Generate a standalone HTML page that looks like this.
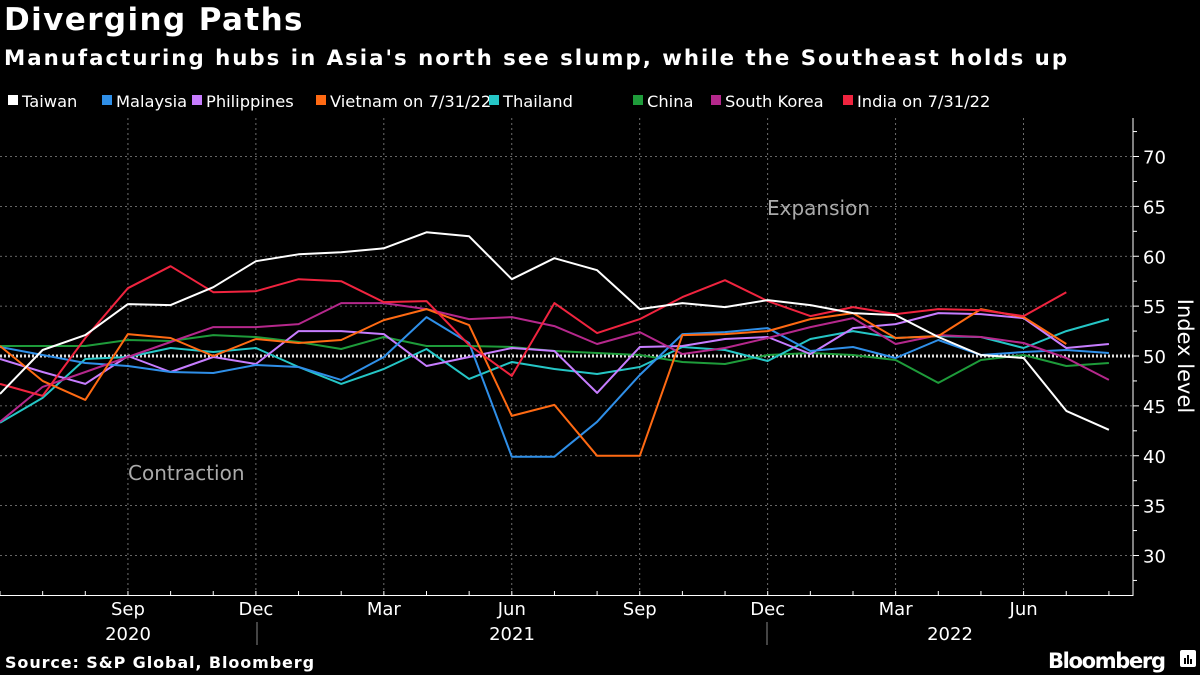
<!DOCTYPE html>
<html><head><meta charset="utf-8"><style>
body{margin:0;background:#000;width:1200px;height:675px;overflow:hidden;font-family:"DejaVu Sans","Liberation Sans",sans-serif;color:#fff}
.t{position:absolute;white-space:nowrap}
</style></head><body>
<div class="t" style="left:4px;top:2px;font-size:31px;font-weight:bold;letter-spacing:1.4px">Diverging Paths</div>
<div class="t" style="left:4px;top:46px;font-size:21.3px;font-weight:bold;letter-spacing:2px">Manufacturing hubs in Asia's north see slump, while the Southeast holds up</div>
<svg width="1200" height="675" style="position:absolute;left:0;top:0;font-family:'DejaVu Sans','Liberation Sans',sans-serif" id="s"></svg>
<script>
const S=document.getElementById('s');let h='';
const X=i=>i*42.65, Y=v=>356-(v-50)*9.975;
const leg=[["Taiwan","#ffffff",8],["Malaysia","#2f8fe8",102],["Philippines","#c77dff",192],["Vietnam on 7/31/22","#ff6a13",316],["Thailand","#25c6c6",489],["China","#1e9b3a",633],["South Korea","#b5288c",711],["India on 7/31/22","#f0243f",843]];
leg.forEach(l=>{h+=`<rect x="${l[2]}" y="95" width="10" height="10" fill="${l[1]}"/><text x="${l[2]+14}" y="107" font-size="16.3" fill="#fff">${l[0]}</text>`});
for(let v=30;v<=70;v+=5){if(v!=50)h+=`<line x1="0" x2="1133" y1="${Y(v)}" y2="${Y(v)}" stroke="#888" stroke-dasharray="2,3" stroke-width="0.8"/>`;
h+=`<line x1="1133" x2="1139" y1="${Y(v)}" y2="${Y(v)}" stroke="#fff"/><text x="1143" y="${Y(v)+7}" font-size="18" fill="#fff">${v}</text>`;}
for(let v=27.5;v<=72.5;v+=5)h+=`<line x1="1133" x2="1137" y1="${Y(v)}" y2="${Y(v)}" stroke="#fff"/>`;
for(let i=3;i<27;i+=3)h+=`<line x1="${X(i)}" x2="${X(i)}" y1="118" y2="595" stroke="#888" stroke-dasharray="2,3" stroke-width="0.8"/>`;
h+=`<line x1="0" x2="1133" y1="356" y2="356" stroke="#ddd" stroke-width="3" stroke-dasharray="2,2"/>`;
h+=`<line x1="0" x2="1133" y1="595.5" y2="595.5" stroke="#fff"/><line x1="1133" x2="1133" y1="118" y2="596" stroke="#fff"/>`;
for(let i=0;i<27;i++)h+=`<line x1="${X(i)}" x2="${X(i)}" y1="591" y2="595" stroke="#fff"/>`;
[["Sep",3],["Dec",6],["Mar",9],["Jun",12],["Sep",15],["Dec",18],["Mar",21],["Jun",24]].forEach(m=>h+=`<text x="${X(m[1])}" y="615" font-size="18" fill="#fff" text-anchor="middle">${m[0]}</text>`);
[["2020",128],["2021",512],["2022",950]].forEach(m=>h+=`<text x="${m[1]}" y="640" font-size="18" fill="#fff" text-anchor="middle">${m[0]}</text>`);
h+=`<line x1="257" x2="257" y1="622" y2="645" stroke="#888"/><line x1="767" x2="767" y1="622" y2="645" stroke="#888"/>`;
h+=`<text x="767" y="215" font-size="20" fill="#aaa">Expansion</text><text x="128" y="480" font-size="20" fill="#aaa">Contraction</text>`;
h+=`<text transform="translate(1178,356) rotate(90)" font-size="21" fill="#fff" text-anchor="middle">Index level</text>`;
const D={
"#1e9b3a":[51.0,51.0,51.0,51.6,51.5,52.1,51.9,51.4,50.7,51.9,51.0,51.0,50.9,50.5,50.3,50.1,49.4,49.2,50.1,50.3,50.1,49.6,47.3,49.6,50.1,49.0,49.3],
"#25c6c6":[43.3,45.8,49.7,49.9,50.8,50.4,50.8,48.9,47.2,48.7,50.7,47.7,49.4,48.7,48.2,48.9,50.9,50.6,49.5,51.7,52.5,51.8,52.0,51.9,50.8,52.5,53.7],
"#c77dff":[49.7,48.4,47.2,50.0,48.4,49.9,49.2,52.5,52.5,52.2,49.0,49.9,50.8,50.5,46.3,50.9,51.0,51.7,51.9,50.2,52.8,53.2,54.3,54.2,53.8,50.8,51.2],
"#2f8fe8":[50.9,50.1,49.3,49.0,48.4,48.3,49.1,48.9,47.6,49.9,53.9,51.3,39.9,39.9,43.4,48.1,52.2,52.4,52.8,50.5,50.9,49.8,51.6,50.1,50.4,50.6,50.3],
"#b5288c":[43.4,46.9,48.4,49.9,51.4,52.9,52.9,53.2,55.3,55.3,54.7,53.7,53.9,53.0,51.2,52.4,50.2,50.8,51.8,52.9,53.8,51.2,52.1,51.9,51.3,49.8,47.6],
"#ff6a13":[51.0,47.5,45.6,52.2,51.8,50.0,51.7,51.3,51.6,53.6,54.7,53.1,44.0,45.1,40.0,40.0,52.1,52.2,52.5,53.7,54.3,51.8,52.0,54.7,53.9,51.2],
"#f0243f":[47.2,46.0,51.8,56.8,59.0,56.4,56.5,57.7,57.5,55.4,55.5,51.1,48.0,55.3,52.3,53.7,55.9,57.6,55.5,54.0,54.9,54.2,54.7,54.6,54.0,56.4],
"#ffffff":[46.2,50.6,52.1,55.2,55.1,56.9,59.5,60.2,60.4,60.8,62.4,62.0,57.7,59.8,58.6,54.7,55.3,54.9,55.6,55.1,54.3,54.1,51.9,50.1,49.8,44.5,42.6]};
for(const c in D)h+=`<polyline fill="none" stroke="${c}" stroke-width="2" stroke-linejoin="round" points="${D[c].map((v,i)=>X(i).toFixed(1)+','+Y(v).toFixed(1)).join(' ')}"/>`;
h+=`<text x="5" y="668" font-size="16" font-weight="bold" letter-spacing="0.9" fill="#fff">Source: S&amp;P Global, Bloomberg</text>`;
h+=`<text x="1048" y="668" font-size="21" font-weight="bold" fill="#fff" textLength="118">Bloomberg</text>`;
h+=`<rect x="1180" y="650" width="16" height="17" rx="2" fill="#fff"/><rect x="1184" y="658" width="2" height="6" fill="#000"/><rect x="1187" y="655" width="2" height="9" fill="#000"/><rect x="1190" y="659" width="2" height="5" fill="#000"/>`;
S.innerHTML=h;
</script>
</body></html>
